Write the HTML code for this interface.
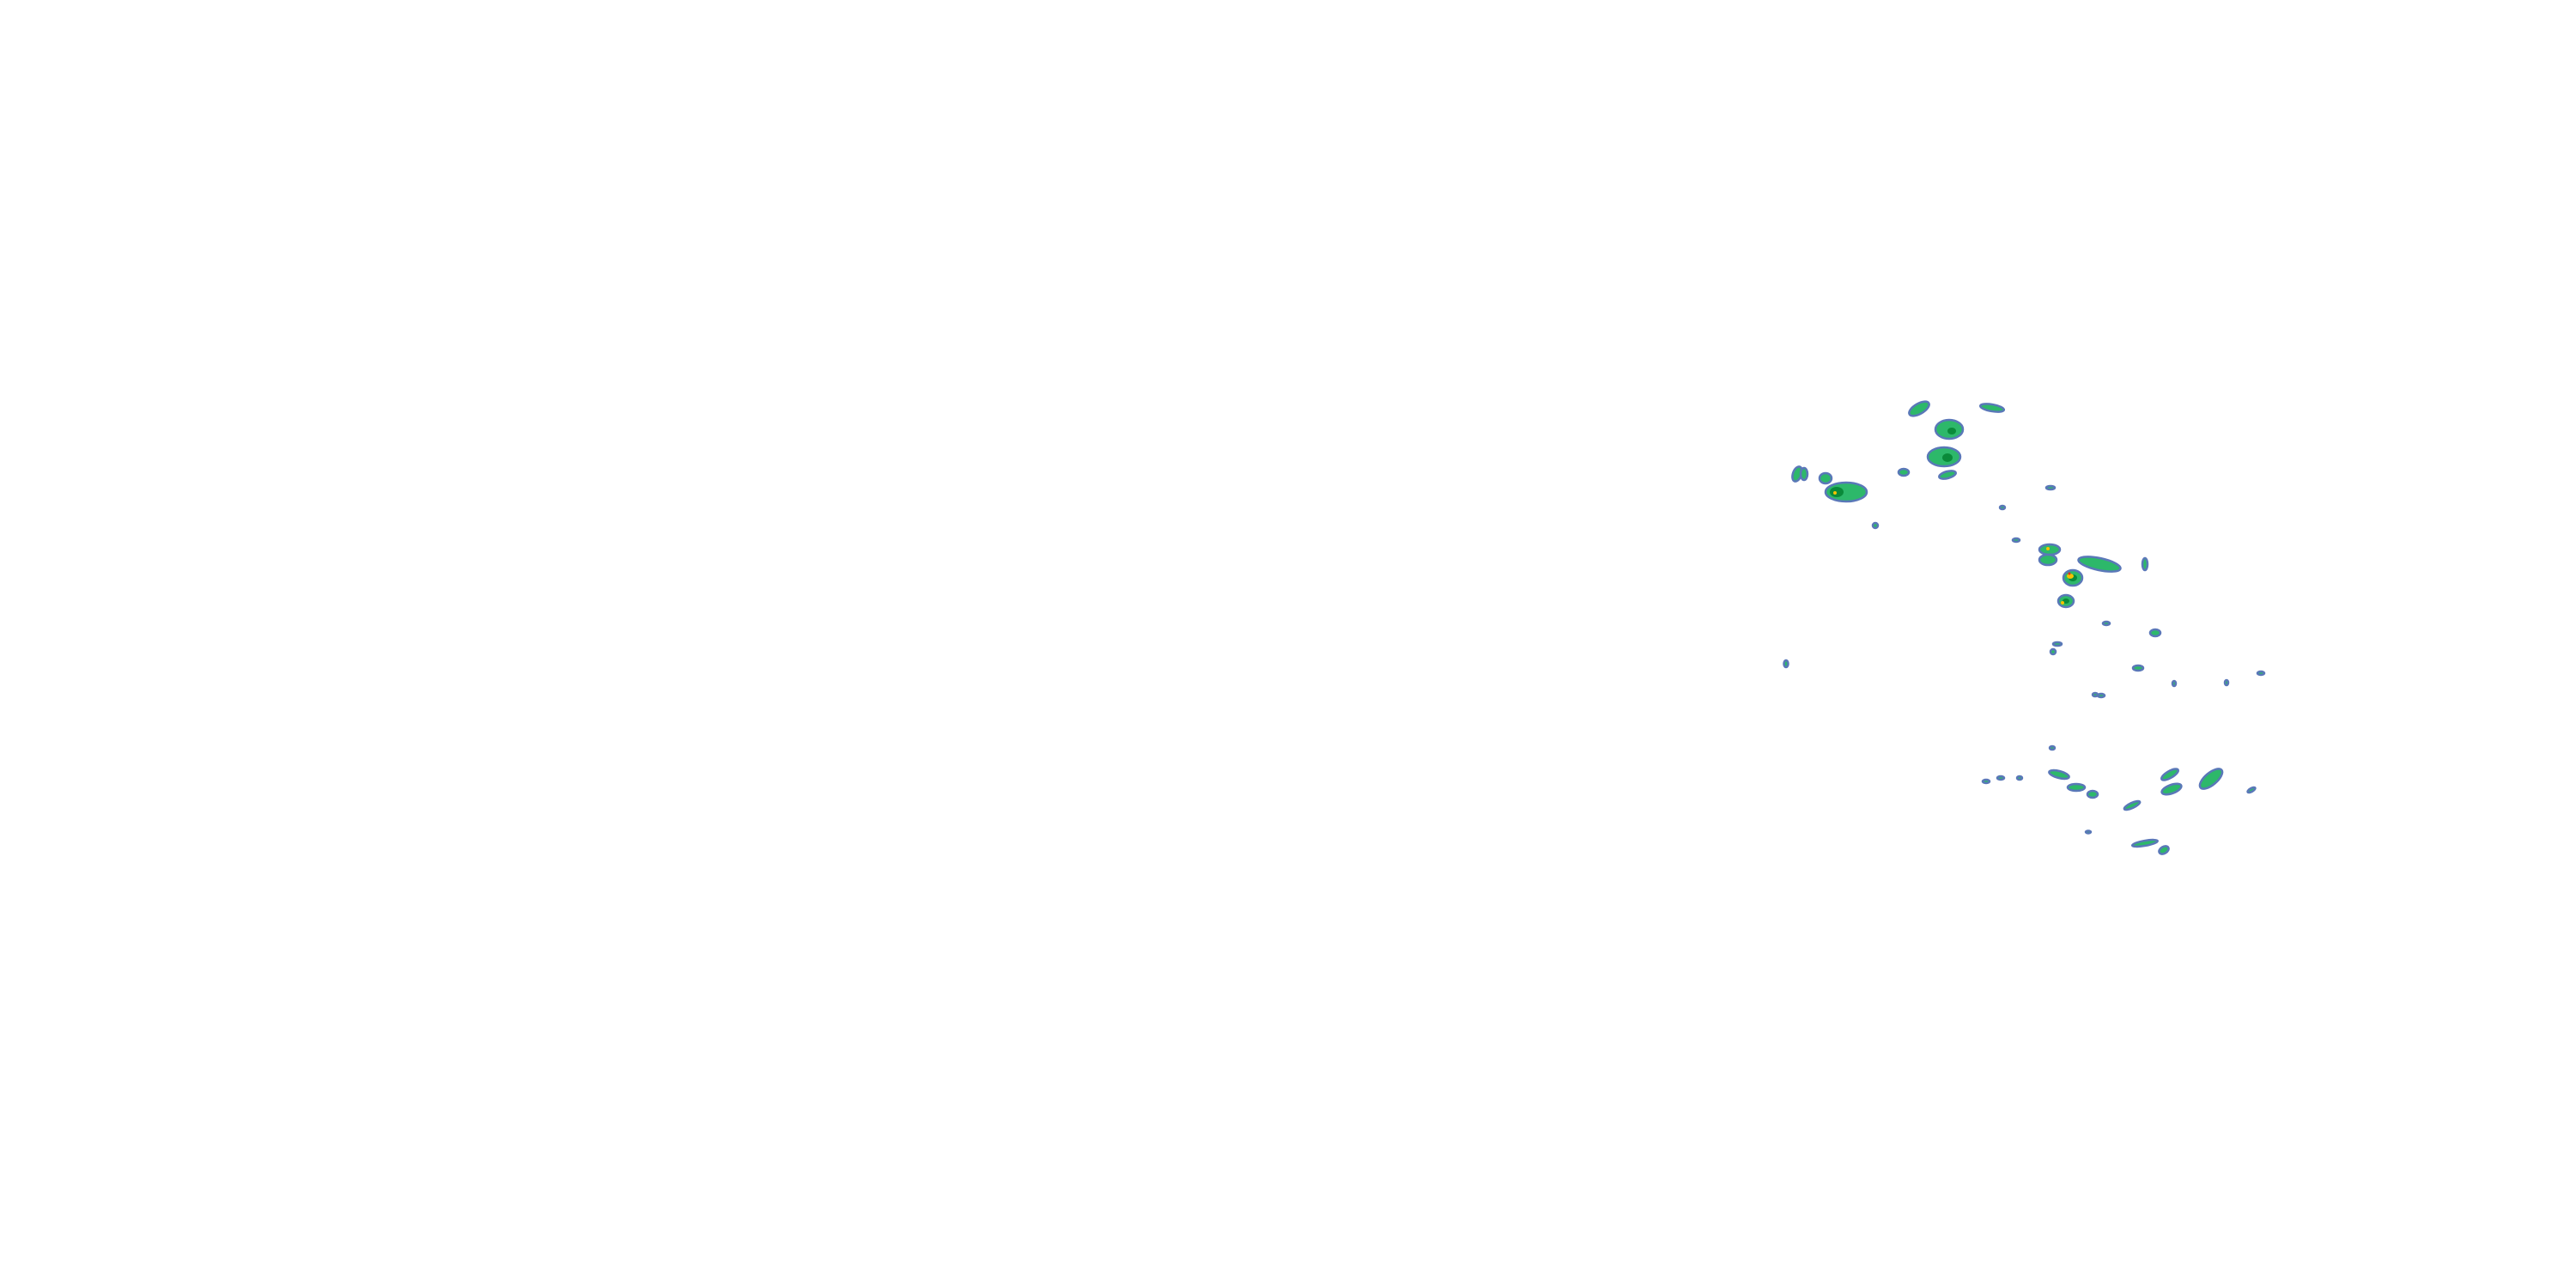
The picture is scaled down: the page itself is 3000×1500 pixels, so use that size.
<!DOCTYPE html>
<html><head><meta charset="utf-8"><style>html,body{margin:0;padding:0;background:#fff}svg{display:block}</style></head>
<body>
<svg width="3000" height="1500" viewBox="0 0 3000 1500" xmlns="http://www.w3.org/2000/svg">
<g fill="#2db86a" stroke="#5a78b8" stroke-width="2.5">
<ellipse cx="2235" cy="476" rx="13" ry="6" transform="rotate(-30 2235 476)"/>
<ellipse cx="2320" cy="475" rx="14" ry="4" transform="rotate(10 2320 475)"/>
<ellipse cx="2270" cy="500" rx="16" ry="11"/>
<ellipse cx="2264" cy="532" rx="19" ry="11"/>
<ellipse cx="2268" cy="553" rx="10" ry="4" transform="rotate(-15 2268 553)"/>
<ellipse cx="2093" cy="552" rx="5" ry="9" transform="rotate(20 2093 552)"/>
<ellipse cx="2101" cy="552" rx="4" ry="7"/>
<ellipse cx="2126" cy="557" rx="7" ry="6"/>
<ellipse cx="2150" cy="573" rx="24" ry="11"/>
<ellipse cx="2217" cy="550" rx="6" ry="4"/>
<ellipse cx="2184" cy="612" rx="3" ry="3"/>
<ellipse cx="2387" cy="640" rx="12" ry="6"/>
<ellipse cx="2385" cy="652" rx="10" ry="6"/>
<ellipse cx="2445" cy="657" rx="25" ry="7" transform="rotate(12 2445 657)"/>
<ellipse cx="2414" cy="673" rx="11" ry="9"/>
<ellipse cx="2406" cy="700" rx="9" ry="7"/>
<ellipse cx="2498" cy="657" rx="3" ry="7"/>
<ellipse cx="2510" cy="737" rx="6" ry="4"/>
<ellipse cx="2490" cy="778" rx="6" ry="3"/>
<ellipse cx="2080" cy="773" rx="2.5" ry="4"/>
<ellipse cx="2396" cy="750" rx="5" ry="2"/>
<ellipse cx="2391" cy="759" rx="3" ry="3"/>
<ellipse cx="2447" cy="810" rx="4" ry="2"/>
<ellipse cx="2453" cy="726" rx="4" ry="2"/>
<ellipse cx="2398" cy="902" rx="12" ry="4" transform="rotate(15 2398 902)"/>
<ellipse cx="2418" cy="917" rx="10" ry="4"/>
<ellipse cx="2437" cy="925" rx="6" ry="4"/>
<ellipse cx="2527" cy="902" rx="11" ry="4" transform="rotate(-30 2527 902)"/>
<ellipse cx="2529" cy="919" rx="12" ry="5" transform="rotate(-20 2529 919)"/>
<ellipse cx="2575" cy="907" rx="16" ry="7" transform="rotate(-40 2575 907)"/>
<ellipse cx="2483" cy="938" rx="10" ry="3" transform="rotate(-25 2483 938)"/>
<ellipse cx="2498" cy="982" rx="15" ry="3" transform="rotate(-10 2498 982)"/>
<ellipse cx="2520" cy="990" rx="6" ry="4" transform="rotate(-30 2520 990)"/>
<ellipse cx="2633" cy="784" rx="4" ry="2"/>
<ellipse cx="2330" cy="906" rx="4" ry="2"/>
<ellipse cx="2313" cy="910" rx="4" ry="2"/>
<ellipse cx="2352" cy="906" rx="3" ry="2"/>
<ellipse cx="2440" cy="809" rx="3" ry="2"/>
<ellipse cx="2532" cy="796" rx="2" ry="3"/>
<ellipse cx="2593" cy="795" rx="2" ry="3"/>
<ellipse cx="2622" cy="920" rx="5" ry="2" transform="rotate(-30 2622 920)"/>
<ellipse cx="2390" cy="871" rx="3" ry="2"/>
<ellipse cx="2432" cy="969" rx="3" ry="1.5"/>
<ellipse cx="2332" cy="591" rx="3" ry="2"/>
<ellipse cx="2388" cy="568" rx="5" ry="2"/>
<ellipse cx="2348" cy="629" rx="4" ry="2"/>
</g>
<g fill="#0a8a3a">
<ellipse cx="2139" cy="573" rx="8" ry="6"/>
<ellipse cx="2268" cy="533" rx="6" ry="5"/>
<ellipse cx="2273" cy="502" rx="5" ry="4"/>
<ellipse cx="2406" cy="700" rx="4" ry="3"/>
<ellipse cx="2414" cy="673" rx="5" ry="4"/>
</g>
<g fill="#f5c200">
<ellipse cx="2411" cy="671" rx="4" ry="3"/>
<ellipse cx="2402" cy="702" rx="2" ry="2"/>
<ellipse cx="2385" cy="639" rx="2" ry="2"/>
<ellipse cx="2137" cy="574" rx="2" ry="2"/>
</g>
<circle cx="2410" cy="668" r="1.5" fill="#e03020"/>
</svg>
</body></html>
